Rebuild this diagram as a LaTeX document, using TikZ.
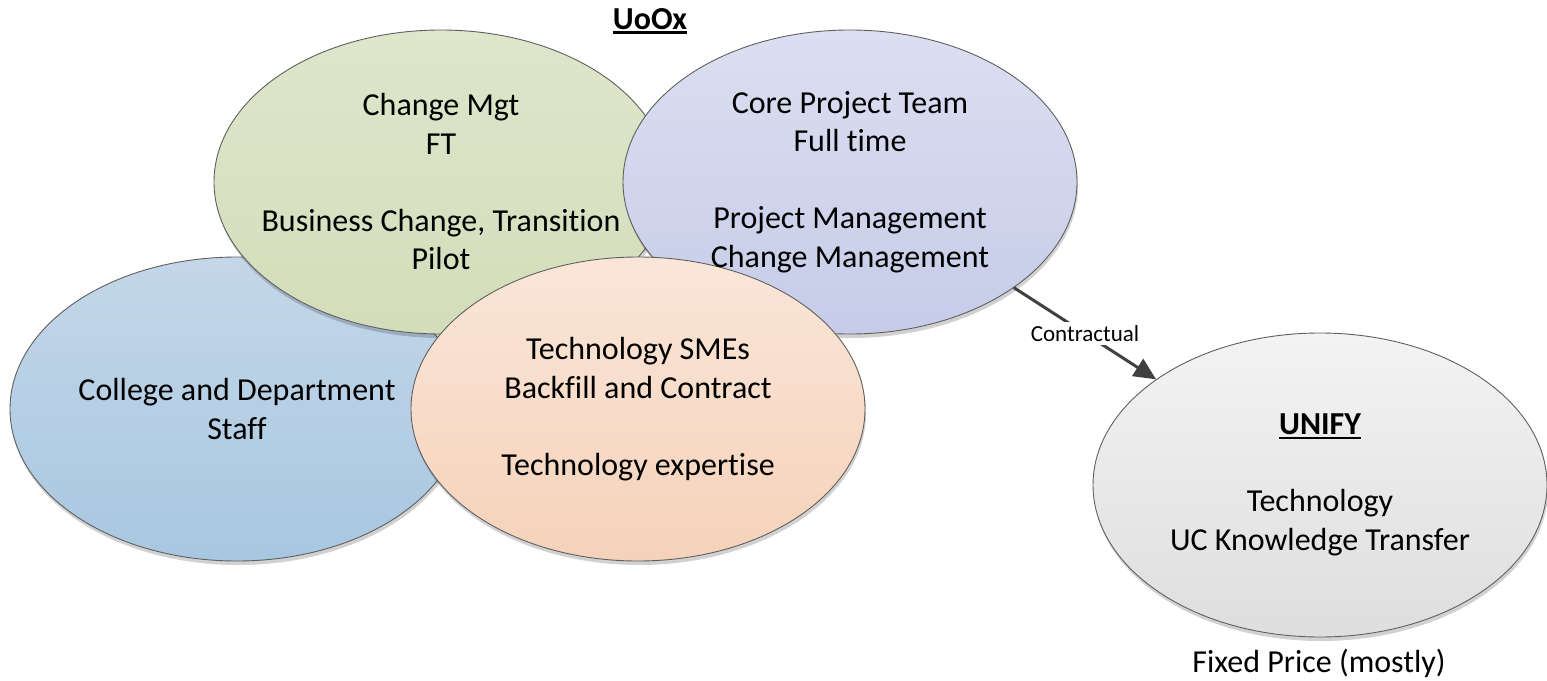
\documentclass[tikz,border=0pt]{standalone}
\usepackage{fontspec}
\setmainfont[Ligatures=NoCommon]{Carlito}
\usetikzlibrary{shapes.geometric,arrows.meta,shadows}
\newcommand{\myul}[1]{\setbox0\hbox{#1}\rlap{\rule[-4.5pt]{\wd0}{2.4pt}}\box0}
\definecolor{edge}{RGB}{95,95,95}
\definecolor{arrowc}{RGB}{64,64,64}
\tikzset{
  blob/.style={ellipse, draw=edge, line width=0.9pt, minimum width=454pt, minimum height=304pt, inner sep=0pt,
    drop shadow={shadow xshift=1pt, shadow yshift=-4pt, fill=black, opacity=0.18}},
  txt/.style={align=center, font=\fontsize{32}{38.5}\selectfont, text=black},
  conn/.style={draw=arrowc, line width=3pt, -{Triangle[length=22pt,width=20pt]}},
  lbl/.style={fill=white, inner sep=3pt, font=\fontsize{23}{27}\selectfont}
}
\begin{document}
\begin{tikzpicture}[x=1pt,y=-1pt]
\useasboundingbox (0,0) rectangle (1547,680);
% shapes
\node[blob, top color={rgb,255:red,196;green,215;blue,233}, bottom color={rgb,255:red,168;green,199;blue,224}] (blue) at (237,409) {};
\node[blob, top color={rgb,255:red,222;green,230;blue,203}, bottom color={rgb,255:red,211;green,221;blue,186}] (green) at (441,182) {};
\node[blob, top color={rgb,255:red,220;green,223;blue,241}, bottom color={rgb,255:red,198;green,204;blue,232}] (purple) at (850,182) {};
\node[blob, top color={rgb,255:red,250;green,230;blue,216}, bottom color={rgb,255:red,245;green,210;blue,186}] (orange) at (638,409) {};
\node[blob, top color={rgb,255:red,243;green,243;blue,243}, bottom color={rgb,255:red,222;green,222;blue,222}] (gray) at (1320,485) {};
% texts
\node[txt] (tblue) at (237,409) {College and Department\\Staff};
\node[txt] (tgreen) at (441,182) {Change Mgt\\FT\\[38.5pt]Business Change, Transition\\Pilot};
\node[txt] (tpurple) at (850,182) {Core Project Team\\Full time\\[38.5pt]Project Management\\Change Management};
\node[txt] (torange) at (638,409) {Technology SMEs\\Backfill and Contract\\[38.5pt]Technology expertise};
\node[txt] (tgray) at (1320,485) {\textbf{\myul{UNIFY}}\\[38.5pt]Technology\\UC Knowledge Transfer};
\node[txt] (title) at (650,21) {\textbf{\myul{UoOx}}};
\node[txt] (price) at (1319,663) {Fixed Price (mostly)};
% connector
\draw[conn] (purple) -- node[lbl] (clbl) {Contractual} (gray);
\end{tikzpicture}
\end{document}
